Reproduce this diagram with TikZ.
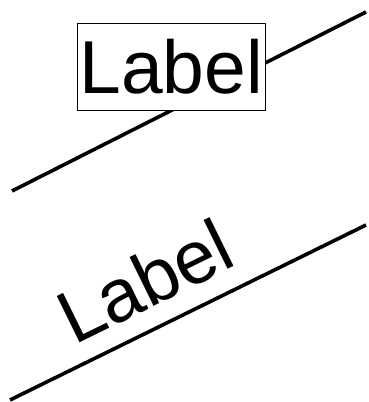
\documentclass[tikz,border=0pt]{standalone}
\usepackage{fontspec}
\setmainfont{Liberation Sans}
\usetikzlibrary{positioning}

\begin{document}
\begin{tikzpicture}[x=1pt,y=1pt,
  wire/.style={line width=3.6pt},
  boxlab/.style={draw,fill=white,line width=0.9pt,inner xsep=2pt,inner ysep=15.5pt,font=\fontsize{75}{90}\selectfont},
  slopelab/.style={inner xsep=2pt,inner ysep=18pt,font=\fontsize{75}{90}\selectfont}]
\useasboundingbox (0,0) rectangle (369,402);
\coordinate (a1) at (12,211);
\coordinate (a2) at (366,390);
\coordinate (b1) at (10,2);
\coordinate (b2) at (366,177);
\draw[wire] (a1) -- node[boxlab,pos=0.45,above] (boxed) {Label} (a2);
\draw[wire] (b1) -- node[slopelab,pos=0.437,sloped,above] (sloped) {Label} (b2);
\end{tikzpicture}
\end{document}
